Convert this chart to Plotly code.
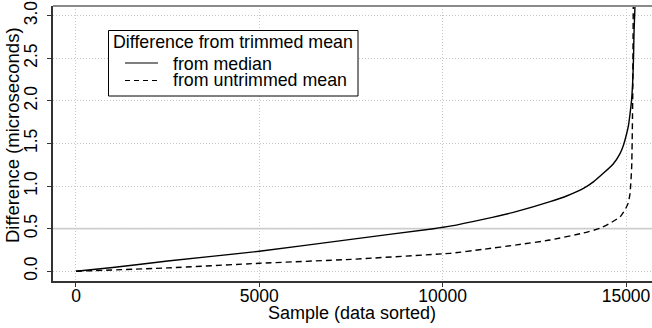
import plotly.graph_objects as go

# ---- data ----
median_x = [0, 1000, 2500, 5000, 7500, 9750, 10200, 11100, 12000, 12930, 13380, 13840,
            14110, 14380, 14650, 14840, 14930, 15020, 15070, 15110, 15150, 15180, 15205,
            15218, 15245, 15260]
median_y = [0, 0.045, 0.12, 0.235, 0.375, 0.50, 0.53, 0.61, 0.70, 0.817, 0.884, 0.974,
            1.05, 1.15, 1.26, 1.385, 1.48, 1.62, 1.72, 1.85, 2.0, 2.2, 2.5,
            2.79, 3.12, 3.4]

untrim_x = [0, 2500, 5000, 7500, 10000, 10200, 11110, 12020, 12930, 13840, 14290, 14560,
            14840, 14970, 15060, 15110, 15155, 15182, 15200, 15210]
untrim_y = [0, 0.04, 0.094, 0.14, 0.205, 0.21, 0.258, 0.31, 0.367, 0.45, 0.505, 0.563,
            0.64, 0.72, 0.80, 0.915, 1.23, 2.01, 3.18, 3.4]

x_ticks = [0, 5000, 10000, 15000]
x_tick_labels = ["0", "5000", "10000", "15000"]
y_ticks = [0.0, 0.5, 1.0, 1.5, 2.0, 2.5, 3.0]
y_tick_labels = ["0.0", "0.5", "1.0", "1.5", "2.0", "2.5", "3.0"]

legend_title = "Difference from trimmed mean"
series_names = ["from median", "from untrimmed mean"]
x_title = "Sample (data sorted)"
y_title = "Difference (microseconds)"

FONT = "Liberation Sans, Arial, sans-serif"
W, H = 652, 328
ML, MR, MT, MB = 53, 0, 6, 47
PW, PH = W - ML - MR, H - MT - MB


def px(xp):
    return (xp - ML) / PW


def py(yp):
    return (H - MB - yp) / PH


fig = go.Figure()
fig.add_trace(go.Scatter(x=median_x, y=median_y, mode="lines", name=series_names[0],
                         line=dict(color="black", width=1.4, shape="spline", smoothing=0.5),
                         showlegend=False))
fig.add_trace(go.Scatter(x=untrim_x, y=untrim_y, mode="lines", name=series_names[1],
                         line=dict(color="black", width=1.4, dash="6px,4px",
                                   shape="spline", smoothing=0.5),
                         showlegend=False))

grid = dict(showgrid=True, gridcolor="#c8c8c8", griddash="1px,2px", gridwidth=1)

fig.update_layout(
    width=W, height=H,
    margin=dict(l=ML, r=MR, t=MT, b=MB, pad=0),
    paper_bgcolor="white", plot_bgcolor="white",
    font=dict(family=FONT, size=17.5, color="black"),
    xaxis=dict(range=[-627, 15709], tickvals=x_ticks, ticktext=x_tick_labels,
               ticks="outside", ticklen=4, tickcolor="#333",
               showline=True, linecolor="#333", linewidth=1.5,
               zeroline=False, tickfont=dict(size=17.5), ticklabelstandoff=-6, **grid),
    yaxis=dict(range=[-0.114, 3.114], tickvals=y_ticks, ticktext=y_tick_labels,
               ticks="outside", ticklen=4, tickcolor="#333", tickangle=-90,
               showline=True, linecolor="#333", linewidth=1.5,
               zeroline=False, tickfont=dict(size=17.5), ticklabelstandoff=3, **grid),
    showlegend=False,
)

# reference line at 0.5
fig.add_shape(type="line", xref="paper", yref="y", x0=0, x1=1, y0=0.5, y1=0.5,
              line=dict(color="#cfcfcf", width=1.8), layer="below")
# top frame line
fig.add_shape(type="line", xref="paper", yref="paper", x0=0, x1=1, y0=1, y1=1,
              line=dict(color="#8a8a8a", width=1.8))

# manual legend box
fig.add_shape(type="rect", xref="paper", yref="paper",
              x0=px(108.5), x1=px(358), y0=py(96), y1=py(30.5),
              line=dict(color="black", width=1), fillcolor="white")
leg_font = dict(size=17.8, family=FONT, color="black")
fig.add_annotation(text=legend_title, xref="paper", yref="paper", x=px(111.5), y=py(41.5),
                   xanchor="left", yanchor="middle", showarrow=False, borderpad=0,
                   font=leg_font)
fig.add_shape(type="line", xref="paper", yref="paper", x0=px(125), x1=px(158),
              y0=py(63), y1=py(63), line=dict(color="black", width=1.2))
fig.add_annotation(text=series_names[0], xref="paper", yref="paper", x=px(172), y=py(63.5),
                   xanchor="left", yanchor="middle", showarrow=False, borderpad=0,
                   font=leg_font)
fig.add_shape(type="line", xref="paper", yref="paper", x0=px(125), x1=px(158),
              y0=py(80.5), y1=py(80.5), line=dict(color="black", width=1.2, dash="5px,4px"))
fig.add_annotation(text=series_names[1], xref="paper", yref="paper", x=px(172), y=py(80.5),
                   xanchor="left", yanchor="middle", showarrow=False, borderpad=0,
                   font=leg_font)

# axis titles
fig.add_annotation(text=x_title, xref="paper", yref="paper", x=px(352), y=py(313),
                   xanchor="center", yanchor="middle", showarrow=False,
                   font=dict(size=18, family=FONT, color="black"))
fig.add_annotation(text=y_title, xref="paper", yref="paper", x=px(12), y=py(135),
                   xanchor="center", yanchor="middle", textangle=-90, showarrow=False,
                   font=dict(size=18.5, family=FONT, color="black"))

fig.write_html("out.html")
